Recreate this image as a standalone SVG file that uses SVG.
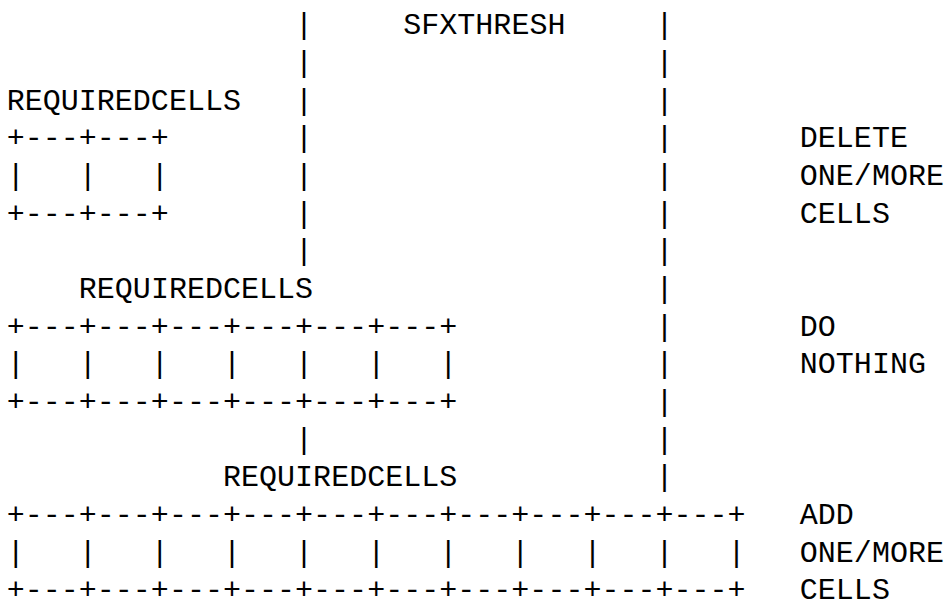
<svg xmlns="http://www.w3.org/2000/svg" width="947" height="601" viewBox="0 0 947 601" xml:space="preserve">
<style>
text{font-family:"Liberation Mono","DejaVu Sans Mono",monospace;font-size:30px;fill:#000;letter-spacing:0.02px;white-space:pre}
</style>
<rect x="0" y="0" width="947" height="601" fill="#fff"/>
<g id="connectors">
<g id="threshold-left">
<text x="295.1" y="34.3">|</text>
<text x="295.1" y="71.97">|</text>
<text x="295.1" y="109.64">|</text>
<text x="295.1" y="147.31">|</text>
<text x="295.1" y="184.98">|</text>
<text x="295.1" y="222.65">|</text>
<text x="295.1" y="260.32">|</text>
<text x="295.1" y="448.67">|</text>
</g>
<g id="threshold-right">
<text x="655.6" y="34.3">|</text>
<text x="655.6" y="71.97">|</text>
<text x="655.6" y="109.64">|</text>
<text x="655.6" y="147.31">|</text>
<text x="655.6" y="184.98">|</text>
<text x="655.6" y="222.65">|</text>
<text x="655.6" y="260.32">|</text>
<text x="655.6" y="297.99">|</text>
<text x="655.6" y="335.66">|</text>
<text x="655.6" y="373.33">|</text>
<text x="655.6" y="411">|</text>
<text x="655.6" y="448.67">|</text>
<text x="655.6" y="486.34">|</text>
</g>
</g>
<g id="sfxthresh">
<text x="403.25" y="34.3">SFXTHRESH</text>
</g>
<g id="cells-delete">
<text x="6.7" y="109.64">REQUIREDCELLS</text>
<text x="6.7" y="147.31">+---+---+</text>
<text x="6.7" y="184.98">|   |   |</text>
<text x="6.7" y="222.65">+---+---+</text>
</g>
<g id="label-delete">
<text x="799.8" y="147.31">DELETE</text>
<text x="799.8" y="184.98">ONE/MORE</text>
<text x="799.8" y="222.65">CELLS</text>
</g>
<g id="cells-nothing">
<text x="78.8" y="297.99">REQUIREDCELLS</text>
<text x="6.7" y="335.66">+---+---+---+---+---+---+</text>
<text x="6.7" y="373.33">|   |   |   |   |   |   |</text>
<text x="6.7" y="411">+---+---+---+---+---+---+</text>
</g>
<g id="label-nothing">
<text x="799.8" y="335.66">DO</text>
<text x="799.8" y="373.33">NOTHING</text>
</g>
<g id="cells-add">
<text x="223.0" y="486.34">REQUIREDCELLS</text>
<text x="6.7" y="524.01">+---+---+---+---+---+---+---+---+---+---+</text>
<text x="6.7" y="561.68">|   |   |   |   |   |   |   |   |   |   |</text>
<text x="6.7" y="599.35">+---+---+---+---+---+---+---+---+---+---+</text>
</g>
<g id="label-add">
<text x="799.8" y="524.01">ADD</text>
<text x="799.8" y="561.68">ONE/MORE</text>
<text x="799.8" y="599.35">CELLS</text>
</g>
</svg>
